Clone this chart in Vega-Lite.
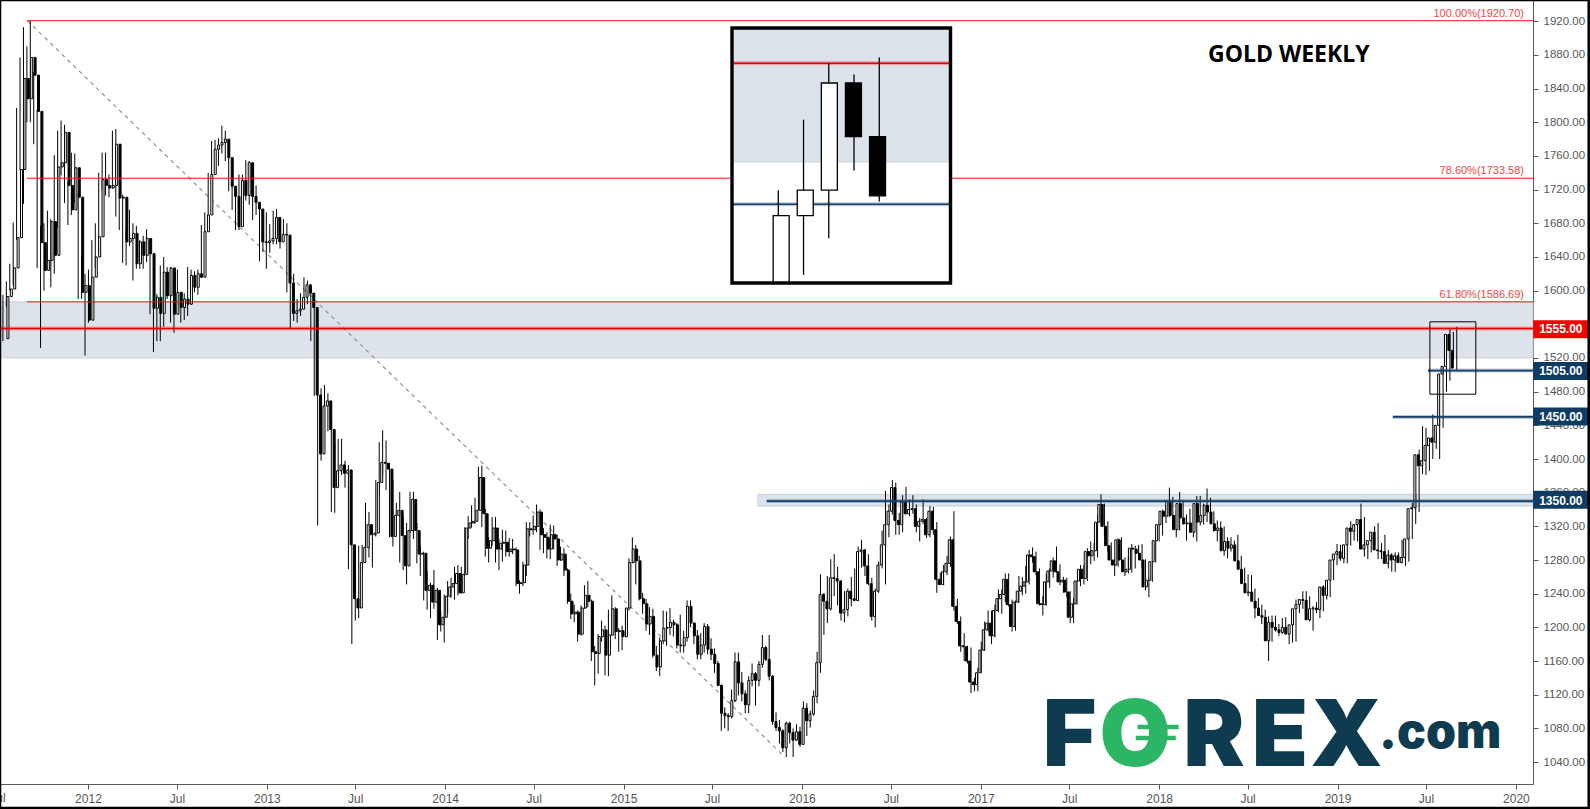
{
"$schema":"https://vega.github.io/schema/vega-lite/v6.json",
"width":1533,"height":784,
"autosize":{"type":"none"},
"padding":{"left":0,"top":0,"right":57,"bottom":25},
"background":"white",
"config":{"view":{"stroke":null}},
"datasets":{
"candles":[
{"t":"2011-07-11","o":1543,"h":1595,"l":1540,"c":1593},
{"t":"2011-07-18","o":1593,"h":1611,"l":1581,"c":1602},
{"t":"2011-07-25","o":1602,"h":1632,"l":1600,"c":1627},
{"t":"2011-08-01","o":1627,"h":1681,"l":1606,"c":1663},
{"t":"2011-08-08","o":1663,"h":1817,"l":1660,"c":1744},
{"t":"2011-08-15","o":1744,"h":1877,"l":1743,"c":1852},
{"t":"2011-08-22","o":1852,"h":1913,"l":1703,"c":1828},
{"t":"2011-08-29","o":1828,"h":1890,"l":1800,"c":1877},
{"t":"2011-09-05","o":1877,"h":1920.7,"l":1800,"c":1856},
{"t":"2011-09-12","o":1856,"h":1860,"l":1774,"c":1813},
{"t":"2011-09-19","o":1813,"h":1815,"l":1627,"c":1657},
{"t":"2011-09-26","o":1657,"h":1677,"l":1532,"c":1624},
{"t":"2011-10-03","o":1624,"h":1680,"l":1600,"c":1636},
{"t":"2011-10-10","o":1636,"h":1695,"l":1634,"c":1682},
{"t":"2011-10-17","o":1682,"h":1685,"l":1604,"c":1642},
{"t":"2011-10-24","o":1642,"h":1761,"l":1620,"c":1747},
{"t":"2011-10-31","o":1747,"h":1790,"l":1675,"c":1752},
{"t":"2011-11-07","o":1752,"h":1802,"l":1737,"c":1788},
{"t":"2011-11-14","o":1788,"h":1797,"l":1704,"c":1725},
{"t":"2011-11-21","o":1725,"h":1730,"l":1678,"c":1696},
{"t":"2011-11-28","o":1696,"h":1764,"l":1690,"c":1746},
{"t":"2011-12-05","o":1746,"h":1763,"l":1704,"c":1711},
{"t":"2011-12-12","o":1711,"h":1716,"l":1590,"c":1598},
{"t":"2011-12-19","o":1598,"h":1640,"l":1590,"c":1606},
{"t":"2011-12-26","o":1606,"h":1620,"l":1523,"c":1565},
{"t":"2012-01-02","o":1565,"h":1625,"l":1562,"c":1616},
{"t":"2012-01-09","o":1616,"h":1660,"l":1608,"c":1640},
{"t":"2012-01-16","o":1640,"h":1680,"l":1627,"c":1664},
{"t":"2012-01-23","o":1664,"h":1740,"l":1644,"c":1732},
{"t":"2012-01-30","o":1732,"h":1764,"l":1719,"c":1725},
{"t":"2012-02-06","o":1725,"h":1764,"l":1713,"c":1722},
{"t":"2012-02-13","o":1722,"h":1738,"l":1711,"c":1725},
{"t":"2012-02-20","o":1725,"h":1790,"l":1721,"c":1774},
{"t":"2012-02-27","o":1774,"h":1792,"l":1688,"c":1710},
{"t":"2012-03-05","o":1710,"h":1716,"l":1672,"c":1711},
{"t":"2012-03-12","o":1711,"h":1714,"l":1633,"c":1658},
{"t":"2012-03-19","o":1658,"h":1673,"l":1630,"c":1662},
{"t":"2012-03-26","o":1662,"h":1696,"l":1653,"c":1668},
{"t":"2012-04-02","o":1668,"h":1680,"l":1612,"c":1632},
{"t":"2012-04-09","o":1632,"h":1677,"l":1626,"c":1658},
{"t":"2012-04-16","o":1658,"h":1660,"l":1626,"c":1642},
{"t":"2012-04-23","o":1642,"h":1665,"l":1626,"c":1662},
{"t":"2012-04-30","o":1662,"h":1673,"l":1634,"c":1644},
{"t":"2012-05-07","o":1644,"h":1646,"l":1572,"c":1579},
{"t":"2012-05-14","o":1579,"h":1597,"l":1527,"c":1592},
{"t":"2012-05-21","o":1592,"h":1596,"l":1540,"c":1573},
{"t":"2012-05-28","o":1573,"h":1630,"l":1540,"c":1622},
{"t":"2012-06-04","o":1622,"h":1640,"l":1557,"c":1594},
{"t":"2012-06-11","o":1594,"h":1628,"l":1590,"c":1627},
{"t":"2012-06-18","o":1627,"h":1628,"l":1562,"c":1572},
{"t":"2012-06-25","o":1572,"h":1605,"l":1550,"c":1598},
{"t":"2012-07-02","o":1598,"h":1625,"l":1574,"c":1580},
{"t":"2012-07-09","o":1580,"h":1598,"l":1562,"c":1590},
{"t":"2012-07-16","o":1590,"h":1597,"l":1565,"c":1584},
{"t":"2012-07-23","o":1584,"h":1628,"l":1570,"c":1618},
{"t":"2012-07-30","o":1618,"h":1625,"l":1583,"c":1604},
{"t":"2012-08-06","o":1604,"h":1623,"l":1598,"c":1620},
{"t":"2012-08-13","o":1620,"h":1625,"l":1595,"c":1616},
{"t":"2012-08-20","o":1616,"h":1678,"l":1615,"c":1670},
{"t":"2012-08-27","o":1670,"h":1693,"l":1653,"c":1690},
{"t":"2012-09-03","o":1690,"h":1740,"l":1687,"c":1738},
{"t":"2012-09-10","o":1738,"h":1778,"l":1723,"c":1768},
{"t":"2012-09-17","o":1768,"h":1779,"l":1754,"c":1773},
{"t":"2012-09-24","o":1773,"h":1781,"l":1748,"c":1776},
{"t":"2012-10-01","o":1776,"h":1796,"l":1763,"c":1780},
{"t":"2012-10-08","o":1780,"h":1790,"l":1754,"c":1758},
{"t":"2012-10-15","o":1758,"h":1760,"l":1718,"c":1724},
{"t":"2012-10-22","o":1724,"h":1728,"l":1696,"c":1712},
{"t":"2012-10-29","o":1712,"h":1720,"l":1672,"c":1676},
{"t":"2012-11-05","o":1676,"h":1738,"l":1672,"c":1731},
{"t":"2012-11-12","o":1731,"h":1738,"l":1705,"c":1713},
{"t":"2012-11-19","o":1713,"h":1755,"l":1707,"c":1752},
{"t":"2012-11-26","o":1752,"h":1754,"l":1702,"c":1712},
{"t":"2012-12-03","o":1712,"h":1720,"l":1684,"c":1705},
{"t":"2012-12-10","o":1705,"h":1725,"l":1690,"c":1697},
{"t":"2012-12-17","o":1697,"h":1698,"l":1635,"c":1658},
{"t":"2012-12-24","o":1658,"h":1670,"l":1646,"c":1657},
{"t":"2012-12-31","o":1657,"h":1693,"l":1626,"c":1659},
{"t":"2013-01-07","o":1659,"h":1679,"l":1645,"c":1662},
{"t":"2013-01-14","o":1662,"h":1695,"l":1655,"c":1687},
{"t":"2013-01-21","o":1687,"h":1697,"l":1655,"c":1658},
{"t":"2013-01-28","o":1658,"h":1685,"l":1650,"c":1667},
{"t":"2013-02-04","o":1667,"h":1685,"l":1660,"c":1666},
{"t":"2013-02-11","o":1666,"h":1680,"l":1598,"c":1609},
{"t":"2013-02-18","o":1609,"h":1617,"l":1555,"c":1573},
{"t":"2013-02-25","o":1573,"h":1620,"l":1564,"c":1576},
{"t":"2013-03-04","o":1576,"h":1590,"l":1562,"c":1578},
{"t":"2013-03-11","o":1578,"h":1597,"l":1570,"c":1592},
{"t":"2013-03-18","o":1592,"h":1616,"l":1590,"c":1607},
{"t":"2013-03-25","o":1607,"h":1612,"l":1584,"c":1597},
{"t":"2013-04-01","o":1597,"h":1606,"l":1540,"c":1580},
{"t":"2013-04-08","o":1580,"h":1590,"l":1475,"c":1476},
{"t":"2013-04-15","o":1476,"h":1480,"l":1321,"c":1406},
{"t":"2013-04-22","o":1406,"h":1484,"l":1398,"c":1463},
{"t":"2013-04-29","o":1463,"h":1488,"l":1444,"c":1469},
{"t":"2013-05-06","o":1469,"h":1478,"l":1433,"c":1435},
{"t":"2013-05-13","o":1435,"h":1445,"l":1337,"c":1366},
{"t":"2013-05-20","o":1366,"h":1418,"l":1336,"c":1386},
{"t":"2013-05-27","o":1386,"h":1424,"l":1378,"c":1393},
{"t":"2013-06-03","o":1393,"h":1424,"l":1381,"c":1383},
{"t":"2013-06-10","o":1383,"h":1398,"l":1366,"c":1387},
{"t":"2013-06-17","o":1387,"h":1393,"l":1269,"c":1298},
{"t":"2013-06-24","o":1298,"h":1298,"l":1180,"c":1234},
{"t":"2013-07-01","o":1234,"h":1268,"l":1208,"c":1223},
{"t":"2013-07-08","o":1223,"h":1297,"l":1211,"c":1277},
{"t":"2013-07-15","o":1277,"h":1298,"l":1265,"c":1295},
{"t":"2013-07-22","o":1295,"h":1348,"l":1295,"c":1322},
{"t":"2013-07-29","o":1322,"h":1337,"l":1283,"c":1310},
{"t":"2013-08-05","o":1310,"h":1316,"l":1271,"c":1312},
{"t":"2013-08-12","o":1312,"h":1375,"l":1308,"c":1372},
{"t":"2013-08-19","o":1372,"h":1420,"l":1357,"c":1396},
{"t":"2013-08-26","o":1396,"h":1434,"l":1381,"c":1395},
{"t":"2013-09-02","o":1395,"h":1422,"l":1363,"c":1388},
{"t":"2013-09-09","o":1388,"h":1389,"l":1307,"c":1308},
{"t":"2013-09-16","o":1308,"h":1375,"l":1296,"c":1333},
{"t":"2013-09-23","o":1333,"h":1348,"l":1311,"c":1339},
{"t":"2013-09-30","o":1339,"h":1361,"l":1277,"c":1309},
{"t":"2013-10-07","o":1309,"h":1331,"l":1268,"c":1273},
{"t":"2013-10-14","o":1273,"h":1324,"l":1251,"c":1315},
{"t":"2013-10-21","o":1315,"h":1361,"l":1312,"c":1352},
{"t":"2013-10-28","o":1352,"h":1361,"l":1305,"c":1315},
{"t":"2013-11-04","o":1315,"h":1324,"l":1276,"c":1287},
{"t":"2013-11-11","o":1287,"h":1297,"l":1261,"c":1288},
{"t":"2013-11-18","o":1288,"h":1290,"l":1232,"c":1244},
{"t":"2013-11-25","o":1244,"h":1267,"l":1221,"c":1250},
{"t":"2013-12-02","o":1250,"h":1253,"l":1211,"c":1230},
{"t":"2013-12-09","o":1230,"h":1268,"l":1222,"c":1244},
{"t":"2013-12-16","o":1244,"h":1247,"l":1185,"c":1203},
{"t":"2013-12-23","o":1203,"h":1220,"l":1195,"c":1212},
{"t":"2013-12-30","o":1212,"h":1239,"l":1182,"c":1237},
{"t":"2014-01-06","o":1237,"h":1255,"l":1217,"c":1248},
{"t":"2014-01-13","o":1248,"h":1259,"l":1235,"c":1252},
{"t":"2014-01-20","o":1252,"h":1272,"l":1233,"c":1264},
{"t":"2014-01-27","o":1264,"h":1274,"l":1238,"c":1241},
{"t":"2014-02-03","o":1241,"h":1272,"l":1240,"c":1263},
{"t":"2014-02-10","o":1263,"h":1319,"l":1261,"c":1318},
{"t":"2014-02-17","o":1318,"h":1332,"l":1305,"c":1324},
{"t":"2014-02-24","o":1324,"h":1345,"l":1319,"c":1326},
{"t":"2014-03-03","o":1326,"h":1354,"l":1323,"c":1339},
{"t":"2014-03-10","o":1339,"h":1391,"l":1339,"c":1378},
{"t":"2014-03-17","o":1378,"h":1392,"l":1319,"c":1335},
{"t":"2014-03-24","o":1335,"h":1341,"l":1284,"c":1294},
{"t":"2014-03-31","o":1294,"h":1307,"l":1277,"c":1303},
{"t":"2014-04-07","o":1303,"h":1331,"l":1297,"c":1318},
{"t":"2014-04-14","o":1318,"h":1331,"l":1277,"c":1293},
{"t":"2014-04-21","o":1293,"h":1305,"l":1268,"c":1300},
{"t":"2014-04-28","o":1300,"h":1316,"l":1278,"c":1301},
{"t":"2014-05-05","o":1301,"h":1315,"l":1284,"c":1290},
{"t":"2014-05-12","o":1290,"h":1306,"l":1284,"c":1293},
{"t":"2014-05-19","o":1293,"h":1305,"l":1287,"c":1292},
{"t":"2014-05-26","o":1292,"h":1295,"l":1249,"c":1252},
{"t":"2014-06-02","o":1252,"h":1256,"l":1240,"c":1253},
{"t":"2014-06-09","o":1253,"h":1278,"l":1249,"c":1274},
{"t":"2014-06-16","o":1274,"h":1325,"l":1261,"c":1317},
{"t":"2014-06-23","o":1317,"h":1325,"l":1308,"c":1316},
{"t":"2014-06-30","o":1316,"h":1333,"l":1310,"c":1320},
{"t":"2014-07-07","o":1320,"h":1346,"l":1313,"c":1337},
{"t":"2014-07-14","o":1337,"h":1340,"l":1292,"c":1310},
{"t":"2014-07-21","o":1310,"h":1318,"l":1288,"c":1307},
{"t":"2014-07-28","o":1307,"h":1313,"l":1282,"c":1293},
{"t":"2014-08-04","o":1293,"h":1322,"l":1281,"c":1310},
{"t":"2014-08-11","o":1310,"h":1321,"l":1293,"c":1305},
{"t":"2014-08-18","o":1305,"h":1310,"l":1273,"c":1280},
{"t":"2014-08-25","o":1280,"h":1296,"l":1279,"c":1287},
{"t":"2014-09-01","o":1287,"h":1294,"l":1261,"c":1268},
{"t":"2014-09-08","o":1268,"h":1270,"l":1228,"c":1231},
{"t":"2014-09-15","o":1231,"h":1240,"l":1210,"c":1216},
{"t":"2014-09-22","o":1216,"h":1227,"l":1206,"c":1218},
{"t":"2014-09-29","o":1218,"h":1220,"l":1183,"c":1192},
{"t":"2014-10-06","o":1192,"h":1226,"l":1190,"c":1223},
{"t":"2014-10-13","o":1223,"h":1250,"l":1222,"c":1238},
{"t":"2014-10-20","o":1238,"h":1255,"l":1224,"c":1231},
{"t":"2014-10-27","o":1231,"h":1233,"l":1160,"c":1171},
{"t":"2014-11-03","o":1171,"h":1178,"l":1131,"c":1169},
{"t":"2014-11-10","o":1169,"h":1192,"l":1145,"c":1189},
{"t":"2014-11-17","o":1189,"h":1208,"l":1183,"c":1197},
{"t":"2014-11-24","o":1197,"h":1202,"l":1143,"c":1167},
{"t":"2014-12-01","o":1167,"h":1221,"l":1142,"c":1191},
{"t":"2014-12-08","o":1191,"h":1238,"l":1190,"c":1222},
{"t":"2014-12-15","o":1222,"h":1224,"l":1186,"c":1195},
{"t":"2014-12-22","o":1195,"h":1199,"l":1171,"c":1196},
{"t":"2014-12-29","o":1196,"h":1202,"l":1173,"c":1189},
{"t":"2015-01-05","o":1189,"h":1223,"l":1188,"c":1223},
{"t":"2015-01-12","o":1223,"h":1282,"l":1220,"c":1277},
{"t":"2015-01-19","o":1277,"h":1307,"l":1276,"c":1293},
{"t":"2015-01-26","o":1293,"h":1298,"l":1251,"c":1279},
{"t":"2015-02-02","o":1279,"h":1285,"l":1232,"c":1234},
{"t":"2015-02-09","o":1234,"h":1241,"l":1216,"c":1228},
{"t":"2015-02-16","o":1228,"h":1234,"l":1196,"c":1204},
{"t":"2015-02-23","o":1204,"h":1224,"l":1191,"c":1213},
{"t":"2015-03-02","o":1213,"h":1222,"l":1164,"c":1167},
{"t":"2015-03-09","o":1167,"h":1178,"l":1148,"c":1153},
{"t":"2015-03-16","o":1153,"h":1188,"l":1142,"c":1184},
{"t":"2015-03-23","o":1184,"h":1220,"l":1180,"c":1199},
{"t":"2015-03-30","o":1199,"h":1219,"l":1178,"c":1200},
{"t":"2015-04-06","o":1200,"h":1223,"l":1191,"c":1206},
{"t":"2015-04-13","o":1206,"h":1209,"l":1189,"c":1203},
{"t":"2015-04-20","o":1203,"h":1205,"l":1175,"c":1179},
{"t":"2015-04-27","o":1179,"h":1215,"l":1170,"c":1178},
{"t":"2015-05-04","o":1178,"h":1196,"l":1170,"c":1188},
{"t":"2015-05-11","o":1188,"h":1232,"l":1183,"c":1225},
{"t":"2015-05-18","o":1225,"h":1232,"l":1200,"c":1205},
{"t":"2015-05-25","o":1205,"h":1206,"l":1180,"c":1190},
{"t":"2015-06-01","o":1190,"h":1197,"l":1162,"c":1168},
{"t":"2015-06-08","o":1168,"h":1193,"l":1162,"c":1179},
{"t":"2015-06-15","o":1179,"h":1205,"l":1170,"c":1201},
{"t":"2015-06-22","o":1201,"h":1204,"l":1168,"c":1174},
{"t":"2015-06-29","o":1174,"h":1187,"l":1161,"c":1168},
{"t":"2015-07-06","o":1168,"h":1175,"l":1146,"c":1157},
{"t":"2015-07-13","o":1157,"h":1160,"l":1130,"c":1131},
{"t":"2015-07-20","o":1131,"h":1132,"l":1077,"c":1098},
{"t":"2015-07-27","o":1098,"h":1105,"l":1080,"c":1095},
{"t":"2015-08-03","o":1095,"h":1098,"l":1077,"c":1094},
{"t":"2015-08-10","o":1094,"h":1126,"l":1092,"c":1113},
{"t":"2015-08-17","o":1113,"h":1170,"l":1111,"c":1159},
{"t":"2015-08-24","o":1159,"h":1170,"l":1119,"c":1134},
{"t":"2015-08-31","o":1134,"h":1147,"l":1112,"c":1121},
{"t":"2015-09-07","o":1121,"h":1125,"l":1098,"c":1108},
{"t":"2015-09-14","o":1108,"h":1142,"l":1098,"c":1137},
{"t":"2015-09-21","o":1137,"h":1157,"l":1130,"c":1145},
{"t":"2015-09-28","o":1145,"h":1147,"l":1107,"c":1137},
{"t":"2015-10-05","o":1137,"h":1160,"l":1130,"c":1156},
{"t":"2015-10-12","o":1156,"h":1191,"l":1152,"c":1176},
{"t":"2015-10-19","o":1176,"h":1178,"l":1160,"c":1162},
{"t":"2015-10-26","o":1162,"h":1191,"l":1137,"c":1142},
{"t":"2015-11-02","o":1142,"h":1143,"l":1084,"c":1088},
{"t":"2015-11-09","o":1088,"h":1099,"l":1077,"c":1081},
{"t":"2015-11-16","o":1081,"h":1090,"l":1062,"c":1077},
{"t":"2015-11-23","o":1077,"h":1079,"l":1052,"c":1057},
{"t":"2015-11-30","o":1057,"h":1088,"l":1046,"c":1086},
{"t":"2015-12-07","o":1086,"h":1088,"l":1062,"c":1075},
{"t":"2015-12-14","o":1075,"h":1080,"l":1046,"c":1066},
{"t":"2015-12-21","o":1066,"h":1085,"l":1065,"c":1076},
{"t":"2015-12-28","o":1076,"h":1082,"l":1058,"c":1061},
{"t":"2016-01-04","o":1061,"h":1112,"l":1061,"c":1104},
{"t":"2016-01-11","o":1104,"h":1110,"l":1071,"c":1089},
{"t":"2016-01-18","o":1089,"h":1101,"l":1081,"c":1097},
{"t":"2016-01-25","o":1097,"h":1125,"l":1095,"c":1118},
{"t":"2016-02-01","o":1118,"h":1171,"l":1110,"c":1158},
{"t":"2016-02-08","o":1158,"h":1263,"l":1146,"c":1239},
{"t":"2016-02-15","o":1239,"h":1241,"l":1191,"c":1231},
{"t":"2016-02-22","o":1231,"h":1261,"l":1205,"c":1222},
{"t":"2016-02-29","o":1222,"h":1281,"l":1220,"c":1259},
{"t":"2016-03-07","o":1259,"h":1287,"l":1237,"c":1258},
{"t":"2016-03-14","o":1258,"h":1272,"l":1226,"c":1255},
{"t":"2016-03-21","o":1255,"h":1256,"l":1208,"c":1217},
{"t":"2016-03-28","o":1217,"h":1243,"l":1206,"c":1221},
{"t":"2016-04-04","o":1221,"h":1246,"l":1213,"c":1243},
{"t":"2016-04-11","o":1243,"h":1260,"l":1225,"c":1234},
{"t":"2016-04-18","o":1234,"h":1270,"l":1231,"c":1232},
{"t":"2016-04-25","o":1232,"h":1296,"l":1231,"c":1290},
{"t":"2016-05-02","o":1290,"h":1304,"l":1271,"c":1292},
{"t":"2016-05-09","o":1292,"h":1293,"l":1261,"c":1273},
{"t":"2016-05-16","o":1273,"h":1287,"l":1250,"c":1252},
{"t":"2016-05-23","o":1252,"h":1259,"l":1208,"c":1213},
{"t":"2016-05-30","o":1213,"h":1246,"l":1200,"c":1243},
{"t":"2016-06-06","o":1243,"h":1278,"l":1241,"c":1274},
{"t":"2016-06-13","o":1274,"h":1315,"l":1270,"c":1298},
{"t":"2016-06-20","o":1298,"h":1362,"l":1251,"c":1322},
{"t":"2016-06-27","o":1322,"h":1346,"l":1307,"c":1338},
{"t":"2016-07-04","o":1338,"h":1375,"l":1334,"c":1366},
{"t":"2016-07-11","o":1366,"h":1372,"l":1310,"c":1327},
{"t":"2016-07-18","o":1327,"h":1336,"l":1310,"c":1322},
{"t":"2016-07-25","o":1322,"h":1357,"l":1313,"c":1349},
{"t":"2016-08-01","o":1349,"h":1367,"l":1334,"c":1335},
{"t":"2016-08-08","o":1335,"h":1352,"l":1332,"c":1340},
{"t":"2016-08-15","o":1340,"h":1357,"l":1335,"c":1341},
{"t":"2016-08-22","o":1341,"h":1346,"l":1313,"c":1320},
{"t":"2016-08-29","o":1320,"h":1330,"l":1302,"c":1326},
{"t":"2016-09-05","o":1326,"h":1352,"l":1323,"c":1328},
{"t":"2016-09-12","o":1328,"h":1330,"l":1306,"c":1310},
{"t":"2016-09-19","o":1310,"h":1344,"l":1307,"c":1338},
{"t":"2016-09-26","o":1338,"h":1343,"l":1310,"c":1316},
{"t":"2016-10-03","o":1316,"h":1325,"l":1241,"c":1257},
{"t":"2016-10-10","o":1257,"h":1265,"l":1250,"c":1251},
{"t":"2016-10-17","o":1251,"h":1274,"l":1250,"c":1266},
{"t":"2016-10-24","o":1266,"h":1285,"l":1262,"c":1276},
{"t":"2016-10-31","o":1276,"h":1308,"l":1272,"c":1304},
{"t":"2016-11-07","o":1304,"h":1338,"l":1220,"c":1225},
{"t":"2016-11-14","o":1225,"h":1234,"l":1204,"c":1207},
{"t":"2016-11-21","o":1207,"h":1213,"l":1171,"c":1178},
{"t":"2016-11-28","o":1178,"h":1193,"l":1160,"c":1177},
{"t":"2016-12-05","o":1177,"h":1178,"l":1157,"c":1160},
{"t":"2016-12-12","o":1160,"h":1176,"l":1122,"c":1135},
{"t":"2016-12-19","o":1135,"h":1140,"l":1124,"c":1132},
{"t":"2016-12-26","o":1132,"h":1152,"l":1124,"c":1146},
{"t":"2017-01-02","o":1146,"h":1183,"l":1146,"c":1173},
{"t":"2017-01-09","o":1173,"h":1207,"l":1172,"c":1197},
{"t":"2017-01-16","o":1197,"h":1220,"l":1195,"c":1205},
{"t":"2017-01-23","o":1205,"h":1220,"l":1180,"c":1190},
{"t":"2017-01-30","o":1190,"h":1227,"l":1188,"c":1220},
{"t":"2017-02-06","o":1220,"h":1245,"l":1218,"c":1234},
{"t":"2017-02-13","o":1234,"h":1245,"l":1216,"c":1239},
{"t":"2017-02-20","o":1239,"h":1264,"l":1230,"c":1257},
{"t":"2017-02-27","o":1257,"h":1264,"l":1225,"c":1227},
{"t":"2017-03-06","o":1227,"h":1233,"l":1195,"c":1201},
{"t":"2017-03-13","o":1201,"h":1232,"l":1196,"c":1230},
{"t":"2017-03-20","o":1230,"h":1261,"l":1229,"c":1243},
{"t":"2017-03-27","o":1243,"h":1260,"l":1238,"c":1249},
{"t":"2017-04-03","o":1249,"h":1273,"l":1240,"c":1254},
{"t":"2017-04-10","o":1254,"h":1292,"l":1251,"c":1286},
{"t":"2017-04-17","o":1286,"h":1295,"l":1277,"c":1284},
{"t":"2017-04-24","o":1284,"h":1290,"l":1262,"c":1266},
{"t":"2017-05-01","o":1266,"h":1270,"l":1226,"c":1228},
{"t":"2017-05-08","o":1228,"h":1237,"l":1214,"c":1227},
{"t":"2017-05-15","o":1227,"h":1264,"l":1226,"c":1254},
{"t":"2017-05-22","o":1254,"h":1270,"l":1247,"c":1267},
{"t":"2017-05-29","o":1267,"h":1283,"l":1259,"c":1279},
{"t":"2017-06-05","o":1279,"h":1296,"l":1265,"c":1266},
{"t":"2017-06-12","o":1266,"h":1275,"l":1250,"c":1254},
{"t":"2017-06-19","o":1254,"h":1260,"l":1241,"c":1256},
{"t":"2017-06-26","o":1256,"h":1259,"l":1236,"c":1242},
{"t":"2017-07-03","o":1242,"h":1243,"l":1205,"c":1212},
{"t":"2017-07-10","o":1212,"h":1235,"l":1205,"c":1228},
{"t":"2017-07-17","o":1228,"h":1256,"l":1227,"c":1255},
{"t":"2017-07-24","o":1255,"h":1274,"l":1249,"c":1269},
{"t":"2017-07-31","o":1269,"h":1274,"l":1251,"c":1258},
{"t":"2017-08-07","o":1258,"h":1294,"l":1255,"c":1290},
{"t":"2017-08-14","o":1290,"h":1302,"l":1275,"c":1285},
{"t":"2017-08-21","o":1285,"h":1300,"l":1279,"c":1291},
{"t":"2017-08-28","o":1291,"h":1334,"l":1283,"c":1325},
{"t":"2017-09-04","o":1325,"h":1358,"l":1320,"c":1346},
{"t":"2017-09-11","o":1346,"h":1347,"l":1310,"c":1320},
{"t":"2017-09-18","o":1320,"h":1326,"l":1290,"c":1297},
{"t":"2017-09-25","o":1297,"h":1301,"l":1279,"c":1280},
{"t":"2017-10-02","o":1280,"h":1282,"l":1261,"c":1274},
{"t":"2017-10-09","o":1274,"h":1306,"l":1272,"c":1304},
{"t":"2017-10-16","o":1304,"h":1307,"l":1276,"c":1280},
{"t":"2017-10-23","o":1280,"h":1283,"l":1261,"c":1266},
{"t":"2017-10-30","o":1266,"h":1284,"l":1264,"c":1269},
{"t":"2017-11-06","o":1269,"h":1299,"l":1265,"c":1294},
{"t":"2017-11-13","o":1294,"h":1297,"l":1270,"c":1293},
{"t":"2017-11-20","o":1293,"h":1298,"l":1280,"c":1288},
{"t":"2017-11-27","o":1288,"h":1299,"l":1271,"c":1280},
{"t":"2017-12-04","o":1280,"h":1281,"l":1244,"c":1248},
{"t":"2017-12-11","o":1248,"h":1260,"l":1236,"c":1256},
{"t":"2017-12-18","o":1256,"h":1279,"l":1254,"c":1278},
{"t":"2017-12-25","o":1278,"h":1307,"l":1277,"c":1303},
{"t":"2018-01-01","o":1303,"h":1326,"l":1302,"c":1322},
{"t":"2018-01-08","o":1322,"h":1340,"l":1309,"c":1338},
{"t":"2018-01-15","o":1338,"h":1345,"l":1324,"c":1332},
{"t":"2018-01-22","o":1332,"h":1366,"l":1331,"c":1350},
{"t":"2018-01-29","o":1350,"h":1355,"l":1331,"c":1333},
{"t":"2018-02-05","o":1333,"h":1338,"l":1307,"c":1316},
{"t":"2018-02-12","o":1316,"h":1361,"l":1315,"c":1347},
{"t":"2018-02-19","o":1347,"h":1351,"l":1322,"c":1330},
{"t":"2018-02-26","o":1330,"h":1334,"l":1303,"c":1323},
{"t":"2018-03-05","o":1323,"h":1341,"l":1313,"c":1324},
{"t":"2018-03-12","o":1324,"h":1331,"l":1307,"c":1313},
{"t":"2018-03-19","o":1313,"h":1356,"l":1302,"c":1347},
{"t":"2018-03-26","o":1347,"h":1356,"l":1321,"c":1325},
{"t":"2018-04-02","o":1325,"h":1347,"l":1322,"c":1333},
{"t":"2018-04-09","o":1333,"h":1365,"l":1325,"c":1345},
{"t":"2018-04-16","o":1345,"h":1354,"l":1334,"c":1337},
{"t":"2018-04-23","o":1337,"h":1338,"l":1314,"c":1323},
{"t":"2018-04-30","o":1323,"h":1327,"l":1302,"c":1315},
{"t":"2018-05-07","o":1315,"h":1326,"l":1305,"c":1318},
{"t":"2018-05-14","o":1318,"h":1320,"l":1285,"c":1291},
{"t":"2018-05-21","o":1291,"h":1307,"l":1282,"c":1302},
{"t":"2018-05-28","o":1302,"h":1307,"l":1290,"c":1294},
{"t":"2018-06-04","o":1294,"h":1303,"l":1289,"c":1298},
{"t":"2018-06-11","o":1298,"h":1310,"l":1274,"c":1279},
{"t":"2018-06-18","o":1279,"h":1285,"l":1260,"c":1269},
{"t":"2018-06-25","o":1269,"h":1271,"l":1246,"c":1252},
{"t":"2018-07-02","o":1252,"h":1263,"l":1237,"c":1241},
{"t":"2018-07-09","o":1241,"h":1262,"l":1238,"c":1242},
{"t":"2018-07-16","o":1242,"h":1246,"l":1211,"c":1231},
{"t":"2018-07-23","o":1231,"h":1235,"l":1221,"c":1223},
{"t":"2018-07-30","o":1223,"h":1227,"l":1204,"c":1214},
{"t":"2018-08-06","o":1214,"h":1221,"l":1205,"c":1212},
{"t":"2018-08-13","o":1212,"h":1213,"l":1160,"c":1184},
{"t":"2018-08-20","o":1184,"h":1214,"l":1183,"c":1206},
{"t":"2018-08-27","o":1206,"h":1214,"l":1195,"c":1200},
{"t":"2018-09-03","o":1200,"h":1204,"l":1190,"c":1197},
{"t":"2018-09-10","o":1197,"h":1211,"l":1192,"c":1194},
{"t":"2018-09-17","o":1194,"h":1212,"l":1192,"c":1200},
{"t":"2018-09-24","o":1200,"h":1201,"l":1180,"c":1192},
{"t":"2018-10-01","o":1192,"h":1207,"l":1182,"c":1203},
{"t":"2018-10-08","o":1203,"h":1233,"l":1183,"c":1222},
{"t":"2018-10-15","o":1222,"h":1233,"l":1217,"c":1227},
{"t":"2018-10-22","o":1227,"h":1243,"l":1222,"c":1233},
{"t":"2018-10-29","o":1233,"h":1243,"l":1211,"c":1232},
{"t":"2018-11-05","o":1232,"h":1237,"l":1207,"c":1209},
{"t":"2018-11-12","o":1209,"h":1225,"l":1196,"c":1222},
{"t":"2018-11-19","o":1222,"h":1230,"l":1217,"c":1223},
{"t":"2018-11-26","o":1223,"h":1230,"l":1211,"c":1221},
{"t":"2018-12-03","o":1221,"h":1250,"l":1219,"c":1248},
{"t":"2018-12-10","o":1248,"h":1252,"l":1233,"c":1238},
{"t":"2018-12-17","o":1238,"h":1269,"l":1236,"c":1256},
{"t":"2018-12-24","o":1256,"h":1284,"l":1256,"c":1280},
{"t":"2018-12-31","o":1280,"h":1299,"l":1274,"c":1287},
{"t":"2019-01-07","o":1287,"h":1298,"l":1279,"c":1290},
{"t":"2019-01-14","o":1290,"h":1298,"l":1276,"c":1282},
{"t":"2019-01-21","o":1282,"h":1303,"l":1276,"c":1298},
{"t":"2019-01-28","o":1298,"h":1326,"l":1297,"c":1318},
{"t":"2019-02-04","o":1318,"h":1322,"l":1303,"c":1314},
{"t":"2019-02-11","o":1314,"h":1327,"l":1302,"c":1322},
{"t":"2019-02-18","o":1322,"h":1347,"l":1320,"c":1328},
{"t":"2019-02-25","o":1328,"h":1331,"l":1284,"c":1293},
{"t":"2019-03-04","o":1293,"h":1300,"l":1281,"c":1298},
{"t":"2019-03-11","o":1298,"h":1311,"l":1289,"c":1303},
{"t":"2019-03-18","o":1303,"h":1320,"l":1298,"c":1313},
{"t":"2019-03-25","o":1313,"h":1324,"l":1281,"c":1292},
{"t":"2019-04-01","o":1292,"h":1300,"l":1281,"c":1291},
{"t":"2019-04-08","o":1291,"h":1310,"l":1287,"c":1290},
{"t":"2019-04-15","o":1290,"h":1292,"l":1270,"c":1276},
{"t":"2019-04-22","o":1276,"h":1288,"l":1266,"c":1286},
{"t":"2019-04-29","o":1286,"h":1289,"l":1266,"c":1280},
{"t":"2019-05-06","o":1280,"h":1289,"l":1279,"c":1285},
{"t":"2019-05-13","o":1285,"h":1304,"l":1276,"c":1277},
{"t":"2019-05-20","o":1277,"h":1287,"l":1273,"c":1283},
{"t":"2019-05-27","o":1283,"h":1307,"l":1278,"c":1305},
{"t":"2019-06-03","o":1305,"h":1348,"l":1305,"c":1341},
{"t":"2019-06-10","o":1341,"h":1358,"l":1323,"c":1342},
{"t":"2019-06-17","o":1342,"h":1411,"l":1337,"c":1405},
{"t":"2019-06-24","o":1405,"h":1439,"l":1382,"c":1392},
{"t":"2019-07-01","o":1392,"h":1437,"l":1381,"c":1398},
{"t":"2019-07-08","o":1398,"h":1424,"l":1386,"c":1416},
{"t":"2019-07-15","o":1416,"h":1453,"l":1400,"c":1425},
{"t":"2019-07-22","o":1425,"h":1433,"l":1412,"c":1420},
{"t":"2019-07-29","o":1420,"h":1448,"l":1400,"c":1440},
{"t":"2019-08-05","o":1440,"h":1510,"l":1437,"c":1501},
{"t":"2019-08-12","o":1501,"h":1535,"l":1480,"c":1510},
{"t":"2019-08-19","o":1510,"h":1555,"l":1493,"c":1548},
{"t":"2019-08-26","o":1548,"h":1551,"l":1517,"c":1529},
{"t":"2019-09-02","o":1529,"h":1557,"l":1506,"c":1508}
],
"zones":[
{"from":"2011-07-05","lo":1520,"hi":1586.69},
{"from":"2015-10-03","lo":1344,"hi":1358}
],
"fib":[
{"v":1920.7,"lab":"100.00%(1920.70)"},
{"v":1733.58,"lab":"78.60%(1733.58)"},
{"v":1586.69,"lab":"61.80%(1586.69)"}
],
"levels":[
{"v":1555,"from":"2011-07-05"},
{"v":1505,"from":"2019-07-05"},
{"v":1450,"from":"2019-04-24"},
{"v":1350,"from":"2015-10-21"}
]
},
"layer":[
{"data":{"name":"zones"},
 "mark":{"type":"rect","fill":"#dde3ea","stroke":"#c9d3dd","strokeWidth":1},
 "encoding":{
  "x":{"field":"from","type":"temporal",
   "scale":{"type":"utc","nice":false,"domain":[{"year":2011,"month":7,"date":5,"utc":true},{"year":2020,"month":2,"date":5,"utc":true}]},
   "axis":{"title":null,"grid":false,"tickSize":5,"labelPadding":4,"domainColor":"#5a5a5a","tickColor":"#5a5a5a","labelColor":"#555555","labelFont":"Liberation Sans","labelFontSize":12,"labelOverlap":false,"labelFlush":false,"labelBound":false,
    "values":[{"year":2012,"month":1,"date":1,"utc":true},{"year":2012,"month":7,"date":1,"utc":true},{"year":2013,"month":1,"date":1,"utc":true},{"year":2013,"month":7,"date":1,"utc":true},{"year":2014,"month":1,"date":1,"utc":true},{"year":2014,"month":7,"date":1,"utc":true},{"year":2015,"month":1,"date":1,"utc":true},{"year":2015,"month":7,"date":1,"utc":true},{"year":2016,"month":1,"date":1,"utc":true},{"year":2016,"month":7,"date":1,"utc":true},{"year":2017,"month":1,"date":1,"utc":true},{"year":2017,"month":7,"date":1,"utc":true},{"year":2018,"month":1,"date":1,"utc":true},{"year":2018,"month":7,"date":1,"utc":true},{"year":2019,"month":1,"date":1,"utc":true},{"year":2019,"month":7,"date":1,"utc":true},{"year":2020,"month":1,"date":1,"utc":true}],
    "labelExpr":"utcmonth(datum.value) == 0 ? utcFormat(datum.value, '%Y') : 'Jul'"}},
  "x2":{"datum":{"year":2020,"month":2,"date":5,"utc":true}},
  "y":{"field":"lo","type":"quantitative",
   "scale":{"domain":[1013.9,1945.3],"nice":false,"zero":false},
   "axis":{"orient":"right","title":null,"grid":false,"format":".2f","tickSize":5,"labelPadding":5,"domainColor":"#5a5a5a","tickColor":"#5a5a5a","labelColor":"#555555","labelFont":"Liberation Sans","labelFontSize":11.5,"labelOverlap":false,"labelBound":false,
    "values":[1040,1080,1120,1160,1200,1240,1280,1320,1360,1400,1440,1480,1520,1600,1640,1680,1720,1760,1800,1840,1880,1920]}},
  "y2":{"field":"hi"}}},
{"data":{"values":[{"lab":"Jul"}]},
 "mark":{"type":"text","align":"center","baseline":"top","fontSize":12,"font":"Liberation Sans","color":"#555555"},
 "encoding":{"x":{"datum":{"year":2011,"month":7,"date":1,"utc":true},"type":"temporal","axis":null,"scale":{"type":"utc","nice":false,"domain":[{"year":2011,"month":7,"date":5,"utc":true},{"year":2020,"month":2,"date":5,"utc":true}]}},
  "y":{"datum":1003.1,"type":"quantitative","axis":null,"scale":{"domain":[1013.9,1945.3],"nice":false,"zero":false}},"text":{"field":"lab"}}},
{"data":{"values":[{"a":"2011-08-30","pa":1920.7,"b":"2015-11-27","pb":1046}]},
 "mark":{"type":"rule","color":"#9a9a9a","strokeWidth":1.3,"strokeDash":[4,4]},
 "encoding":{"x":{"field":"a","type":"temporal","axis":null,"scale":{"type":"utc","nice":false,"domain":[{"year":2011,"month":7,"date":5,"utc":true},{"year":2020,"month":2,"date":5,"utc":true}]}},"x2":{"field":"b"},
  "y":{"field":"pa","type":"quantitative","axis":null,"scale":{"domain":[1013.9,1945.3],"nice":false,"zero":false}},"y2":{"field":"pb"}}},
{"data":{"name":"candles"},
 "mark":{"type":"rule","color":"black","strokeWidth":1},
 "encoding":{"x":{"field":"t","type":"temporal","axis":null,"scale":{"type":"utc","nice":false,"domain":[{"year":2011,"month":7,"date":5,"utc":true},{"year":2020,"month":2,"date":5,"utc":true}]}},
  "y":{"field":"l","type":"quantitative","axis":null,"scale":{"domain":[1013.9,1945.3],"nice":false,"zero":false}},"y2":{"field":"h"}}},
{"data":{"name":"candles"},
 "mark":{"type":"bar","width":2,"stroke":"black","strokeWidth":1},
 "encoding":{"x":{"field":"t","type":"temporal","axis":null,"scale":{"type":"utc","nice":false,"domain":[{"year":2011,"month":7,"date":5,"utc":true},{"year":2020,"month":2,"date":5,"utc":true}]}},
  "y":{"field":"o","type":"quantitative","axis":null,"scale":{"domain":[1013.9,1945.3],"nice":false,"zero":false}},"y2":{"field":"c"},
  "fill":{"condition":{"test":"datum.c < datum.o","value":"black"},"value":"white"}}},
{"data":{"name":"fib"},
 "mark":{"type":"rule","color":"#ff1010","strokeWidth":1},
 "encoding":{"x":{"datum":{"year":2011,"month":8,"date":29,"utc":true},"type":"temporal","axis":null,"scale":{"type":"utc","nice":false,"domain":[{"year":2011,"month":7,"date":5,"utc":true},{"year":2020,"month":2,"date":5,"utc":true}]}},"x2":{"datum":{"year":2020,"month":2,"date":5,"utc":true}},
  "y":{"field":"v","type":"quantitative","axis":null,"scale":{"domain":[1013.9,1945.3],"nice":false,"zero":false}}}},
{"data":{"name":"fib"},
 "mark":{"type":"text","align":"right","baseline":"bottom","dx":-9,"dy":-2,"fontSize":11,"font":"Liberation Sans","color":"#f04848"},
 "encoding":{"x":{"datum":{"year":2020,"month":2,"date":5,"utc":true},"type":"temporal","axis":null,"scale":{"type":"utc","nice":false,"domain":[{"year":2011,"month":7,"date":5,"utc":true},{"year":2020,"month":2,"date":5,"utc":true}]}},
  "y":{"field":"v","type":"quantitative","axis":null,"scale":{"domain":[1013.9,1945.3],"nice":false,"zero":false}},"text":{"field":"lab"}}},
{"data":{"name":"levels"},
 "mark":{"type":"rule","strokeWidth":4,"opacity":0.3},
 "encoding":{"x":{"field":"from","type":"temporal","axis":null,"scale":{"type":"utc","nice":false,"domain":[{"year":2011,"month":7,"date":5,"utc":true},{"year":2020,"month":2,"date":5,"utc":true}]}},"x2":{"datum":{"year":2020,"month":2,"date":5,"utc":true}},
  "y":{"field":"v","type":"quantitative","axis":null,"scale":{"domain":[1013.9,1945.3],"nice":false,"zero":false}},
  "color":{"condition":{"test":"datum.v == 1555","value":"#ff0000"},"value":"#1a4a7a"}}},
{"data":{"name":"levels"},
 "mark":{"type":"rule","strokeWidth":1.6},
 "encoding":{"x":{"field":"from","type":"temporal","axis":null,"scale":{"type":"utc","nice":false,"domain":[{"year":2011,"month":7,"date":5,"utc":true},{"year":2020,"month":2,"date":5,"utc":true}]}},"x2":{"datum":{"year":2020,"month":2,"date":5,"utc":true}},
  "y":{"field":"v","type":"quantitative","axis":null,"scale":{"domain":[1013.9,1945.3],"nice":false,"zero":false}},
  "color":{"condition":{"test":"datum.v == 1555","value":"#e60000"},"value":"#163f68"}}},
{"data":{"values":[{"a":"2019-07-09","b":"2019-10-11","lo":1477,"hi":1563}]},
 "mark":{"type":"rect","fillOpacity":0,"stroke":"black","strokeWidth":1},
 "encoding":{"x":{"field":"a","type":"temporal","axis":null,"scale":{"type":"utc","nice":false,"domain":[{"year":2011,"month":7,"date":5,"utc":true},{"year":2020,"month":2,"date":5,"utc":true}]}},"x2":{"field":"b"},
  "y":{"field":"lo","type":"quantitative","axis":null,"scale":{"domain":[1013.9,1945.3],"nice":false,"zero":false}},"y2":{"field":"hi"}}},
{"data":{"name":"levels"},
 "mark":{"type":"bar","height":18},
 "encoding":{"x":{"datum":{"year":2020,"month":2,"date":5,"hours":6,"utc":true},"type":"temporal","axis":null,"scale":{"type":"utc","nice":false,"domain":[{"year":2011,"month":7,"date":5,"utc":true},{"year":2020,"month":2,"date":5,"utc":true}]}},"x2":{"datum":{"year":2020,"month":5,"date":29,"utc":true}},
  "y":{"field":"v","type":"quantitative","axis":null,"scale":{"domain":[1013.9,1945.3],"nice":false,"zero":false}},
  "color":{"condition":{"test":"datum.v == 1555","value":"#f70000"},"value":"#0f3a62"}}},
{"data":{"name":"levels"},
 "mark":{"type":"text","align":"center","baseline":"middle","fontSize":12,"fontWeight":"bold","font":"Liberation Sans","color":"white"},
 "encoding":{"x":{"datum":{"year":2020,"month":4,"date":2,"utc":true},"type":"temporal","axis":null,"scale":{"type":"utc","nice":false,"domain":[{"year":2011,"month":7,"date":5,"utc":true},{"year":2020,"month":2,"date":5,"utc":true}]}},
  "y":{"field":"v","type":"quantitative","axis":null,"scale":{"domain":[1013.9,1945.3],"nice":false,"zero":false}},"text":{"field":"v","type":"quantitative","format":".2f"}}},
{"data":{"values":[{"txt":"GOLD WEEKLY"}]},
 "mark":{"type":"text","align":"left","baseline":"middle","fontSize":23,"fontWeight":"bold","font":"Open Sans","color":"black"},
 "encoding":{"x":{"datum":{"year":2018,"month":4,"date":11,"utc":true},"type":"temporal","axis":null,"scale":{"type":"utc","nice":false,"domain":[{"year":2011,"month":7,"date":5,"utc":true},{"year":2020,"month":2,"date":5,"utc":true}]}},
  "y":{"datum":1880,"type":"quantitative","axis":null,"scale":{"domain":[1013.9,1945.3],"nice":false,"zero":false}},"text":{"field":"txt"}}},
{"data":{"values":[{"ch":"F"}]},
 "mark":{"type":"text","align":"center","baseline":"alphabetic","fontSize":92,"fontWeight":900,"font":"Inter","color":"#0e3b4f"},
 "encoding":{"x":{"datum":{"year":2017,"month":7,"date":2,"utc":true},"type":"temporal","axis":null,"scale":{"type":"utc","nice":false,"domain":[{"year":2011,"month":7,"date":5,"utc":true},{"year":2020,"month":2,"date":5,"utc":true}]}},
  "y":{"datum":1035.2,"type":"quantitative","axis":null,"scale":{"domain":[1013.9,1945.3],"nice":false,"zero":false}},"text":{"field":"ch"}}},
{"data":{"values":[{"ch":"O"}]},
 "mark":{"type":"text","align":"center","baseline":"alphabetic","fontSize":92,"fontWeight":900,"font":"Inter","color":"#2bb565"},
 "encoding":{"x":{"datum":{"year":2017,"month":11,"date":13,"utc":true},"type":"temporal","axis":null,"scale":{"type":"utc","nice":false,"domain":[{"year":2011,"month":7,"date":5,"utc":true},{"year":2020,"month":2,"date":5,"utc":true}]}},
  "y":{"datum":1035.2,"type":"quantitative","axis":null,"scale":{"domain":[1013.9,1945.3],"nice":false,"zero":false}},"text":{"field":"ch"}}},
{"data":{"values":[{"bar":"upper"}]},
 "mark":{"type":"rule","strokeWidth":4.5,"color":"#2bb565"},
 "encoding":{"x":{"datum":{"year":2017,"month":11,"date":18,"utc":true},"type":"temporal","axis":null,"scale":{"type":"utc","nice":false,"domain":[{"year":2011,"month":7,"date":5,"utc":true},{"year":2020,"month":2,"date":5,"utc":true}]}},"x2":{"datum":{"year":2018,"month":2,"date":10,"utc":true}},
  "y":{"datum":1081.5,"type":"quantitative","axis":null,"scale":{"domain":[1013.9,1945.3],"nice":false,"zero":false}}}},
{"data":{"values":[{"bar":"lower"}]},
 "mark":{"type":"rule","strokeWidth":4.5,"color":"#2bb565"},
 "encoding":{"x":{"datum":{"year":2017,"month":11,"date":14,"utc":true},"type":"temporal","axis":null,"scale":{"type":"utc","nice":false,"domain":[{"year":2011,"month":7,"date":5,"utc":true},{"year":2020,"month":2,"date":5,"utc":true}]}},"x2":{"datum":{"year":2018,"month":2,"date":4,"utc":true}},
  "y":{"datum":1068.5,"type":"quantitative","axis":null,"scale":{"domain":[1013.9,1945.3],"nice":false,"zero":false}}}},
{"data":{"values":[{"ch":"R"}]},
 "mark":{"type":"text","align":"center","baseline":"alphabetic","fontSize":92,"fontWeight":900,"font":"Inter","color":"#0e3b4f"},
 "encoding":{"x":{"datum":{"year":2018,"month":4,"date":23,"utc":true},"type":"temporal","axis":null,"scale":{"type":"utc","nice":false,"domain":[{"year":2011,"month":7,"date":5,"utc":true},{"year":2020,"month":2,"date":5,"utc":true}]}},
  "y":{"datum":1035.2,"type":"quantitative","axis":null,"scale":{"domain":[1013.9,1945.3],"nice":false,"zero":false}},"text":{"field":"ch"}}},
{"data":{"values":[{"ch":"E"}]},
 "mark":{"type":"text","align":"center","baseline":"alphabetic","fontSize":92,"fontWeight":900,"font":"Inter","color":"#0e3b4f"},
 "encoding":{"x":{"datum":{"year":2018,"month":9,"date":5,"utc":true},"type":"temporal","axis":null,"scale":{"type":"utc","nice":false,"domain":[{"year":2011,"month":7,"date":5,"utc":true},{"year":2020,"month":2,"date":5,"utc":true}]}},
  "y":{"datum":1035.2,"type":"quantitative","axis":null,"scale":{"domain":[1013.9,1945.3],"nice":false,"zero":false}},"text":{"field":"ch"}}},
{"data":{"values":[{"ch":"X"}]},
 "mark":{"type":"text","align":"center","baseline":"alphabetic","fontSize":92,"fontWeight":900,"font":"Inter","color":"#0e3b4f"},
 "encoding":{"x":{"datum":{"year":2019,"month":1,"date":19,"utc":true},"type":"temporal","axis":null,"scale":{"type":"utc","nice":false,"domain":[{"year":2011,"month":7,"date":5,"utc":true},{"year":2020,"month":2,"date":5,"utc":true}]}},
  "y":{"datum":1035.2,"type":"quantitative","axis":null,"scale":{"domain":[1013.9,1945.3],"nice":false,"zero":false}},"text":{"field":"ch"}}},
{"data":{"values":[{"ch":".com"}]},
 "mark":{"type":"text","align":"center","baseline":"alphabetic","fontSize":48,"fontWeight":900,"font":"Inter","color":"#0e3b4f"},
 "encoding":{"x":{"datum":{"year":2019,"month":7,"date":30,"utc":true},"type":"temporal","axis":null,"scale":{"type":"utc","nice":false,"domain":[{"year":2011,"month":7,"date":5,"utc":true},{"year":2020,"month":2,"date":5,"utc":true}]}},
  "y":{"datum":1056.6,"type":"quantitative","axis":null,"scale":{"domain":[1013.9,1945.3],"nice":false,"zero":false}},"text":{"field":"ch"}}},
{"data":{"values":[{"frame":"outer"}]},
 "mark":{"type":"rect","fillOpacity":0,"stroke":"black","strokeWidth":2.5},
 "encoding":{"x":{"datum":{"year":2011,"month":7,"date":5,"utc":true},"type":"temporal","axis":null,"scale":{"type":"utc","nice":false,"domain":[{"year":2011,"month":7,"date":5,"utc":true},{"year":2020,"month":2,"date":5,"utc":true}]}},"x2":{"datum":{"year":2020,"month":5,"date":29,"utc":true}},
  "y":{"datum":985.3,"type":"quantitative","axis":null,"scale":{"domain":[1013.9,1945.3],"nice":false,"zero":false}},"y2":{"datum":1945.3}}},
{"data":{"values":[{"inset":"background"}]},
 "mark":{"type":"rect","fill":"white"},
 "encoding":{
  "x":{"datum":{"year":2019,"month":7,"date":23,"hours":4,"utc":true},"type":"temporal","axis":null,"scale":{"type":"utc","nice":false,"clamp":true,"range":[732,950.5],"domain":[{"year":2019,"month":7,"date":23,"hours":4,"utc":true},{"year":2019,"month":9,"date":21,"hours":18,"utc":true}]}},
  "x2":{"datum":{"year":2019,"month":9,"date":21,"hours":18,"utc":true}},
  "y":{"datum":1477.1,"type":"quantitative","axis":null,"scale":{"domain":[1477.1,1567.5],"range":[283,28],"clamp":true,"nice":false,"zero":false}},
  "y2":{"datum":1567.5}}},
{"data":{"name":"zones"},
 "transform":[{"filter":"datum.lo == 1520"}],
 "mark":{"type":"rect","fill":"#dde3ea","stroke":"#c9d3dd","strokeWidth":1},
 "encoding":{"x":{"datum":{"year":2019,"month":7,"date":23,"hours":4,"utc":true},"type":"temporal","axis":null,"scale":{"type":"utc","nice":false,"clamp":true,"range":[732,950.5],"domain":[{"year":2019,"month":7,"date":23,"hours":4,"utc":true},{"year":2019,"month":9,"date":21,"hours":18,"utc":true}]}},"x2":{"datum":{"year":2019,"month":9,"date":21,"hours":18,"utc":true}},
  "y":{"field":"lo","type":"quantitative","axis":null,"scale":{"domain":[1477.1,1567.5],"range":[283,28],"clamp":true,"nice":false,"zero":false}},"y2":{"field":"hi"}}},
{"data":{"name":"levels"},
 "transform":[{"filter":"datum.v >= 1500"}],
 "mark":{"type":"rule","strokeWidth":4,"opacity":0.3},
 "encoding":{"x":{"datum":{"year":2019,"month":7,"date":23,"hours":4,"utc":true},"type":"temporal","axis":null,"scale":{"type":"utc","nice":false,"clamp":true,"range":[732,950.5],"domain":[{"year":2019,"month":7,"date":23,"hours":4,"utc":true},{"year":2019,"month":9,"date":21,"hours":18,"utc":true}]}},"x2":{"datum":{"year":2019,"month":9,"date":21,"hours":18,"utc":true}},
  "y":{"field":"v","type":"quantitative","axis":null,"scale":{"domain":[1477.1,1567.5],"range":[283,28],"clamp":true,"nice":false,"zero":false}},
  "color":{"condition":{"test":"datum.v == 1555","value":"#ff0000"},"value":"#1a4a7a"}}},
{"data":{"name":"levels"},
 "transform":[{"filter":"datum.v >= 1500"}],
 "mark":{"type":"rule","strokeWidth":1.6},
 "encoding":{"x":{"datum":{"year":2019,"month":7,"date":23,"hours":4,"utc":true},"type":"temporal","axis":null,"scale":{"type":"utc","nice":false,"clamp":true,"range":[732,950.5],"domain":[{"year":2019,"month":7,"date":23,"hours":4,"utc":true},{"year":2019,"month":9,"date":21,"hours":18,"utc":true}]}},"x2":{"datum":{"year":2019,"month":9,"date":21,"hours":18,"utc":true}},
  "y":{"field":"v","type":"quantitative","axis":null,"scale":{"domain":[1477.1,1567.5],"range":[283,28],"clamp":true,"nice":false,"zero":false}},
  "color":{"condition":{"test":"datum.v == 1555","value":"#e60000"},"value":"#163f68"}}},
{"data":{"name":"candles"},
 "transform":[{"filter":"time(datum.t) >= time('2019-08-04')"}],
 "mark":{"type":"rule","color":"black","strokeWidth":1.3},
 "encoding":{"x":{"field":"t","type":"temporal","axis":null,"scale":{"type":"utc","nice":false,"clamp":true,"range":[732,950.5],"domain":[{"year":2019,"month":7,"date":23,"hours":4,"utc":true},{"year":2019,"month":9,"date":21,"hours":18,"utc":true}]}},
  "y":{"field":"l","type":"quantitative","axis":null,"scale":{"domain":[1477.1,1567.5],"range":[283,28],"clamp":true,"nice":false,"zero":false}},"y2":{"field":"h"}}},
{"data":{"name":"candles"},
 "transform":[{"filter":"time(datum.t) >= time('2019-08-04')"}],
 "mark":{"type":"bar","width":16,"stroke":"black","strokeWidth":1.3},
 "encoding":{"x":{"field":"t","type":"temporal","axis":null,"scale":{"type":"utc","nice":false,"clamp":true,"range":[732,950.5],"domain":[{"year":2019,"month":7,"date":23,"hours":4,"utc":true},{"year":2019,"month":9,"date":21,"hours":18,"utc":true}]}},
  "y":{"field":"o","type":"quantitative","axis":null,"scale":{"domain":[1477.1,1567.5],"range":[283,28],"clamp":true,"nice":false,"zero":false}},"y2":{"field":"c"},
  "fill":{"condition":{"test":"datum.c < datum.o","value":"black"},"value":"white"}}},
{"data":{"values":[{"inset":"frame"}]},
 "mark":{"type":"rect","fillOpacity":0,"stroke":"black","strokeWidth":3.4},
 "encoding":{"x":{"datum":{"year":2019,"month":7,"date":23,"hours":4,"utc":true},"type":"temporal","axis":null,"scale":{"type":"utc","nice":false,"clamp":true,"range":[732,950.5],"domain":[{"year":2019,"month":7,"date":23,"hours":4,"utc":true},{"year":2019,"month":9,"date":21,"hours":18,"utc":true}]}},"x2":{"datum":{"year":2019,"month":9,"date":21,"hours":18,"utc":true}},
  "y":{"datum":1477.1,"type":"quantitative","axis":null,"scale":{"domain":[1477.1,1567.5],"range":[283,28],"clamp":true,"nice":false,"zero":false}},"y2":{"datum":1567.5}}}
],
"resolve":{"scale":{"x":"independent","y":"independent"}}
}
